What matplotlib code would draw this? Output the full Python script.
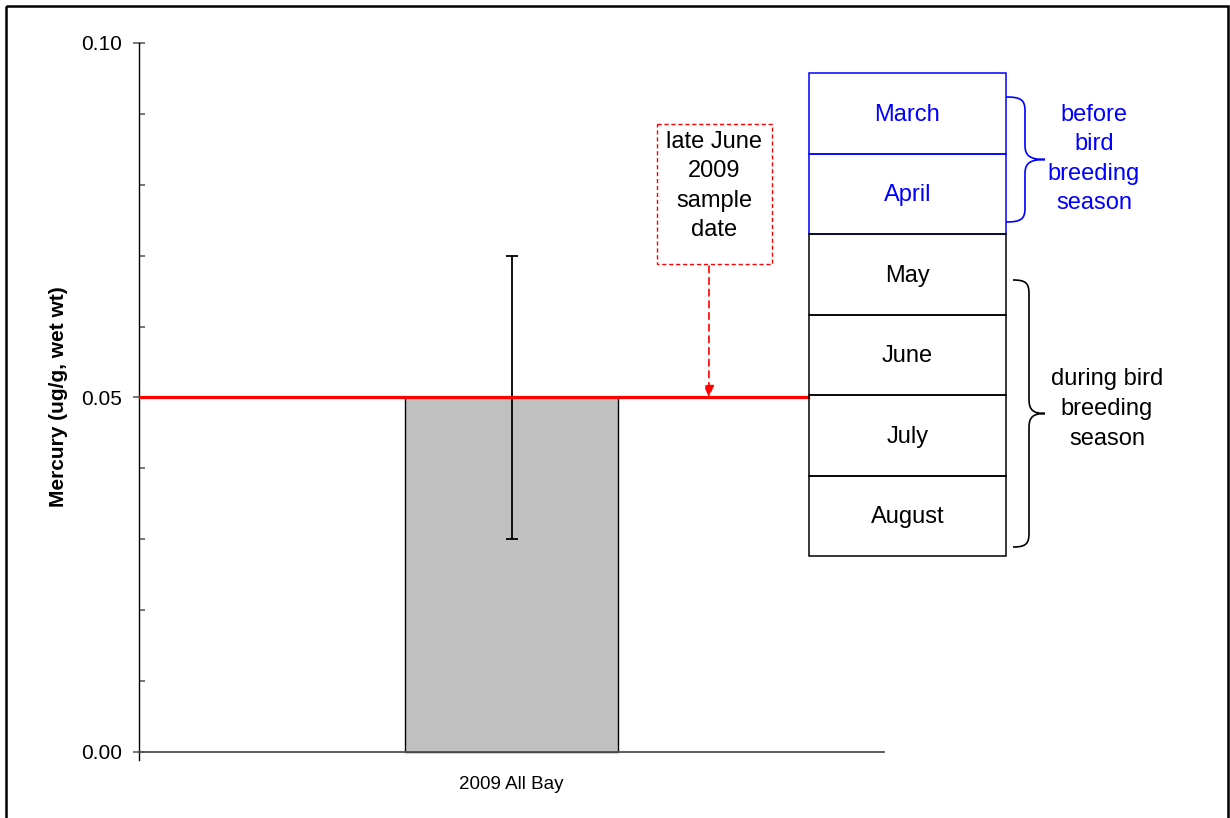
import matplotlib
matplotlib.use('Agg')
import matplotlib.pyplot as plt
from matplotlib.patches import Rectangle, PathPatch
from matplotlib.path import Path
from matplotlib.transforms import Affine2D
from matplotlib.ticker import MultipleLocator, FormatStrFormatter

plt.rcParams['font.family'] = ['Liberation Sans', 'DejaVu Sans']

# data
categories = ['2009 All Bay']
mercury = [0.05]
err_low = [0.03]
err_high = [0.07]
threshold = 0.05
months = ['March', 'April', 'May', 'June', 'July', 'August']
month_colors = ['blue', 'blue', 'black', 'black', 'black', 'black']
sample_note = 'late June\n2009\nsample\ndate'
before_note = 'before\nbird\nbreeding\nseason'
during_note = 'during bird\nbreeding\nseason'

W, H = 1230, 818
fig = plt.figure(figsize=(W / 100, H / 100), dpi=100)
# pixel coords (origin top-left) for the annotation layer
px = Affine2D().scale(1 / W, -1 / H).translate(0, 1) + fig.transFigure

ax = fig.add_axes([139 / W, 1 - 760 / H, 745 / W, 717 / H])
ax.set_xlim(-0.5, 0.5)
ax.set_ylim(-0.00113, 0.1)

xpos = list(range(len(categories)))
ax.bar(xpos, mercury, width=0.286, color='#C0C0C0', edgecolor='black',
       linewidth=1.0, zorder=1)
yerr = [[m - lo for m, lo in zip(mercury, err_low)],
        [hi - m for m, hi in zip(mercury, err_high)]]
ax.errorbar(xpos, mercury, yerr=yerr, fmt='none', ecolor='black',
            elinewidth=1.3, capsize=4, capthick=1.3, zorder=2)
ax.axhline(threshold, xmin=0, xmax=669 / 745, color='red', lw=2.3, zorder=3)

# axes styling
for s in ['top', 'right']:
    ax.spines[s].set_visible(False)
ax.spines['bottom'].set_position(('data', 0))
ax.spines['bottom'].set_color('#505050')
ax.spines['bottom'].set_linewidth(1.3)
ax.spines['left'].set_linewidth(1.0)
ax.spines['left'].set_bounds(-0.00113, 0.1)

ax.yaxis.set_major_locator(MultipleLocator(0.05))
ax.yaxis.set_minor_locator(MultipleLocator(0.01))
ax.yaxis.set_major_formatter(FormatStrFormatter('%.2f'))
ax.tick_params(axis='y', which='major', direction='inout', length=8,
               width=1.2, color='#606060', labelsize=15, pad=8)
ax.tick_params(axis='y', which='minor', direction='in', length=4,
               width=1.2, color='#606060')
ax.set_xticks(xpos)
ax.set_xticklabels(categories)
ax.tick_params(axis='x', length=0, labelsize=13.5, pad=17)
fig.text(59, 397, 'Mercury (ug/g, wet wt)', transform=px, rotation=90,
         ha='center', va='center', fontsize=15, fontweight='bold')

# sample date callout
fig.patches.append(Rectangle((657, 124), 115, 140, transform=px, fill=False,
                             edgecolor='red', lw=1.0, ls=(0, (3, 2))))
fig.text(714, 186, sample_note, transform=px, ha='center', va='center',
         fontsize=17, linespacing=1.45)
ax.annotate('', xy=(0.265, threshold), xycoords='data',
            xytext=(709, 266), textcoords=px,
            arrowprops=dict(arrowstyle='-|>,head_length=0.7,head_width=0.3',
                            color='red', lw=1.2, ls=(0, (4, 3)),
                            shrinkA=0, shrinkB=0))

# month table
box_top, box_h = 73, 80.5
for i, (m, c) in enumerate(zip(months, month_colors)):
    y0 = box_top + i * box_h
    fig.patches.append(Rectangle((809, y0), 197, box_h, transform=px,
                                 fill=False, edgecolor=c, lw=1.1,
                                 zorder=2 if c == 'black' else 1))
    fig.text(907.5, y0 + box_h / 2 + 1.5, m, transform=px, ha='center',
             va='center', fontsize=17, color=c)


def brace(x0, yt, yb, xs, xtip, color):
    ym = (yt + yb) / 2
    r = 14
    verts = [(x0, yt), (x0 + 0.8 * (xs - x0), yt), (xs, yt + 3), (xs, yt + r),
             (xs, ym - r),
             (xs, ym - 3), (xs + 0.3 * (xtip - xs), ym), (xtip, ym),
             (xs + 0.3 * (xtip - xs), ym), (xs, ym + 3), (xs, ym + r),
             (xs, yb - r),
             (xs, yb - 3), (x0 + 0.8 * (xs - x0), yb), (x0, yb)]
    codes = [Path.MOVETO] + [Path.CURVE4] * 3 + [Path.LINETO] + \
        [Path.CURVE4] * 6 + [Path.LINETO] + [Path.CURVE4] * 3
    fig.patches.append(PathPatch(Path(verts, codes), transform=px,
                                 fill=False, edgecolor=color, lw=1.2))


brace(1006, 97, 222, 1025, 1045, 'blue')
brace(1013, 280, 547, 1029, 1045, 'black')

fig.text(1094, 159, before_note, transform=px, ha='center', va='center',
         fontsize=17, color='blue', linespacing=1.45)
fig.text(1107, 409, during_note, transform=px, ha='center', va='center',
         fontsize=17, linespacing=1.45)

# outer border
fig.patches.append(Rectangle((6.2, 6.2), 1221.5, 830, transform=px,
                             fill=False, edgecolor='black', lw=1.8))

fig.savefig('out.png', dpi=100)
